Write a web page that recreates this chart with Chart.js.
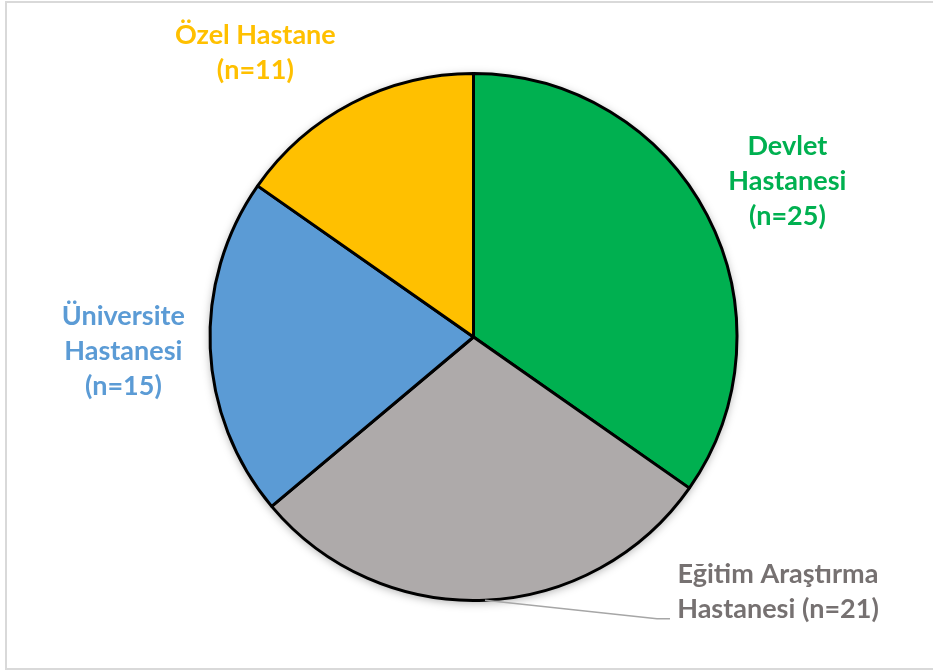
<!DOCTYPE html>
<html>
<head>
<meta charset="utf-8">
<script src="https://cdn.jsdelivr.net/npm/chart.js@4"></script>
<style>
  html, body { margin: 0; padding: 0; background: #fff; }
  #wrap { width: 933px; height: 671px; }
</style>
</head>
<body>
<div id="wrap"><canvas id="hospitalChart" width="933" height="671"></canvas></div>
<script>
// hospital types and counts
const categories = ['Devlet Hastanesi', 'Eğitim Araştırma Hastanesi', 'Üniversite Hastanesi', 'Özel Hastane'];
const counts = [25, 21, 15, 11];
const labelLines = [
  ['Devlet', 'Hastanesi', '(n=25)'],
  ['Eğitim Araştırma', 'Hastanesi (n=21)'],
  ['Üniversite', 'Hastanesi', '(n=15)'],
  ['Özel Hastane', '(n=11)']
];

const sliceColors = ['#00B050', '#AEAAAA', '#5B9BD5', '#FFC000'];
const textColors = ['#00B050', '#767171', '#5B9BD5', '#FFC000'];
// label placement: radial factor and extra shift (px)
const labelPlace = [
  { k: 1.33, dx: 3, dy: 6 },
  { k: 1.0, dx: 293, dy: -8, leader: true },
  { k: 1.33, dx: 0, dy: -1 },
  { k: 1.30, dx: -60, dy: 20 }
];

const frameAndLabels = {
  id: 'frameAndLabels',
  beforeDraw(chart) {
    const ctx = chart.ctx;
    ctx.save();
    ctx.strokeStyle = '#D9D9D9';
    ctx.lineWidth = 2;
    ctx.strokeRect(6, 2, 960, 667);
    ctx.restore();
  },
  beforeDatasetsDraw(chart) {
    // soft shadow under the pie
    const arc = chart.getDatasetMeta(0).data[0];
    if (!arc) return;
    const ctx = chart.ctx;
    ctx.save();
    ctx.shadowColor = 'rgba(0,0,0,0.35)';
    ctx.shadowBlur = 10;
    ctx.shadowOffsetY = 2;
    ctx.fillStyle = '#fff';
    ctx.beginPath();
    ctx.arc(arc.x, arc.y, arc.outerRadius, 0, Math.PI * 2);
    ctx.fill();
    ctx.restore();
  },
  afterDatasetsDraw(chart) {
    const ctx = chart.ctx;
    const arcs = chart.getDatasetMeta(0).data;
    ctx.save();
    ctx.font = 'bold 27px Lato';
    ctx.textAlign = 'center';
    ctx.textBaseline = 'middle';
    arcs.forEach((a, i) => {
      const mid = (a.startAngle + a.endAngle) / 2;
      const p = labelPlace[i];
      const ex = a.x + Math.cos(mid) * a.outerRadius;
      const ey = a.y + Math.sin(mid) * a.outerRadius;
      const cx = a.x + Math.cos(mid) * a.outerRadius * p.k + p.dx;
      const cy = a.y + Math.sin(mid) * a.outerRadius * p.k + p.dy;
      const lines = labelLines[i];
      const lh = 35;
      const top = cy - (lines.length - 1) * lh / 2;
      if (p.leader) {
        const lineY = top + lh + 9;
        ctx.strokeStyle = '#A6A6A6';
        ctx.lineWidth = 1.3;
        ctx.beginPath();
        ctx.moveTo(ex, ey);
        ctx.lineTo(cx - 121, lineY);
        ctx.lineTo(cx - 108, lineY);
        ctx.stroke();
      }
      ctx.fillStyle = textColors[i];
      lines.forEach((t, j) => ctx.fillText(t, cx, top + j * lh));
    });
    ctx.restore();
  }
};

new Chart(document.getElementById('hospitalChart').getContext('2d'), {
  type: 'pie',
  data: {
    labels: categories,
    datasets: [{
      data: counts,
      backgroundColor: sliceColors,
      borderColor: '#000',
      borderWidth: 3
    }]
  },
  options: {
    responsive: false,
    animation: false,
    layout: { padding: { top: 72, bottom: 69, left: 14, right: 0 } },
    plugins: {
      legend: { display: false },
      tooltip: { enabled: false }
    }
  },
  plugins: [frameAndLabels]
});
</script>
</body>
</html>
